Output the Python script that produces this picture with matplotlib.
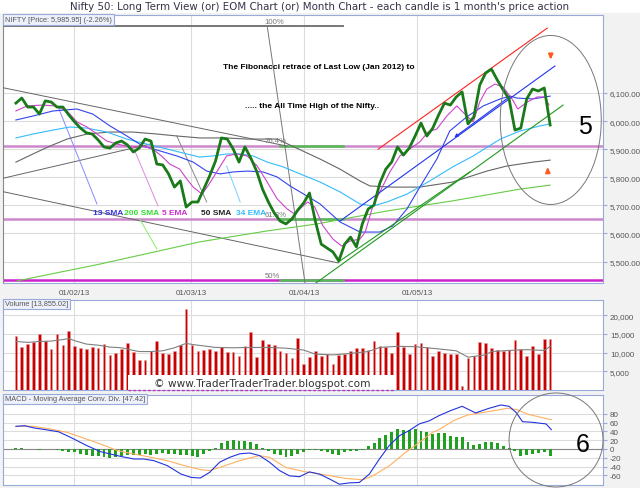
import matplotlib.pyplot as plt
from matplotlib.patches import Ellipse, Rectangle
from matplotlib.lines import Line2D
import numpy as np

# ---- daily data, 17 Jan 2013 .. 31 May 2013 ----
close = [6064, 6082, 6050, 6050, 6025, 6072, 6068, 6050, 6050, 6022,
         5997, 5975, 5958, 5954, 5933, 5908, 5904, 5922, 5929, 5915,
         5890, 5904, 5936, 5929, 5847, 5844, 5812, 5765, 5787, 5694,
         5712, 5712, 5758, 5805, 5858, 5940, 5936, 5901, 5854, 5908,
         5869, 5822, 5758, 5712, 5673, 5644, 5634, 5651, 5683, 5708,
         5744, 5644, 5562, 5548, 5534, 5502, 5562, 5587, 5552, 5634,
         5687, 5701, 5780, 5829, 5854, 5908, 5879, 5904, 5947, 5993,
         5947, 5975, 6022, 6064, 6057, 6086, 6104, 5990, 6015, 6128,
         6171, 6185, 6146, 6111, 6079, 5968, 5975, 6079, 6114, 6107,
         6118, 5986]

volume = [14520, 11500, 12300, 12750, 14970, 13020, 10960, 14970, 12120, 15860,
          11850, 11230, 10960, 11500, 11230, 12390, 9440, 9890, 10960, 12570,
          10080, 8110, 8110, 10340, 13200, 9890, 9630, 10520, 11940, 21740,
          11940, 10520, 10790, 11100, 10340, 11400, 10080, 10080, 9180, 11850,
          15500, 8740, 13290, 12300, 12120, 10340, 9890, 8560, 13900, 7030,
          8820, 10520, 9180, 9630, 7030, 9440, 9530, 10520, 11230, 11230,
          10610, 13020, 11670, 11400, 9890, 15500, 11500, 9630, 12390, 12570,
          11500, 9010, 10520, 9890, 9710, 9630, 1150, 8500, 9000, 12840,
          12570, 11230, 10790, 10340, 10610, 13290, 10960, 9180, 11670, 9710,
          13720, 13720]

vol_ma_idx = [0, 2, 4, 6, 8, 9, 10, 12, 14, 16, 18, 20, 21, 23, 25, 27, 28, 29, 30, 32, 34,
              37, 40, 43, 46, 49, 51, 54, 57, 60, 62, 65, 68, 72, 75, 77, 80, 81, 84, 87, 90, 91]
vol_ma_val = [13000, 12750, 13000, 13100, 13500, 13800, 13200, 12300, 12000, 11500, 11300,
              10600, 10300, 10300, 10500, 11300, 11900, 12500, 12200, 11800, 11400, 11300,
              11400, 11400, 11200, 10700, 9600, 9400, 9800, 10300, 11400, 11700, 11600,
              11000, 10500, 8800, 9400, 10300, 10600, 10800, 10600, 11700]

macd_hist = [1.5, 2.3, 0.8, 0, -1.5, 0, -1, -3, -4.5, -6,
             -7.6, -11, -13.6, -15, -16.7, -19, -21, -19, -15, -13,
             -13.6, -13, -11.4, -13, -10.6, -9, -10.6, -12, -13, -13,
             -15, -19, -12, -5, 1.5, 12.9, 19, 20.5, 17.4, 17.4,
             15.2, 11.4, 1.5, -3.8, -11.4, -13.6, -19, -15.2, -11.4, -7.6,
             -1.5, -1.5, -3.8, -7.6, -11.4, -13, -7.6, -5.3, -3.8, -1.5,
             7.6, 13.6, 24, 31.8, 37.9, 45.5, 44, 43, 45.5, 41.7,
             37.9, 34, 36.4, 36, 30, 28, 26.5, 16.7, 9, 11.4,
             15, 15, 13.6, 7.6, 1.5, -3.8, -15, -13.6, -11.4, -9,
             -7.6, -15]

macd_idx = [0, 1.5, 3, 5, 7.3, 9.3, 12.1, 14.4, 16.1, 17.8, 20.1, 21.8, 23.5, 25.8, 28.1,
            29.8, 31.4, 33, 34.7, 36.4, 38.1, 39.8, 41.5, 43.2, 44.9, 46.6, 48.3, 50, 51.7,
            53.4, 55.1, 56.8, 58.5, 60.2, 61.9, 63.6, 65.3, 67, 68.7, 70.4, 72.1, 74, 76,
            78.3, 80.6, 82.6, 84, 85.2, 86.3, 87.7, 90.3, 91.2]
macd_val = [51.5, 53, 48, 44, 39, 26.5, 7.6, -6, -11.4, -16.7, -22.7, -22.7, -26.5, -37.9,
            -56.8, -64.4, -66, -53, -30, -19, -11, -9, -15, -30, -49, -61, -63, -52, -57,
            -68, -80, -77, -76, -57, -23, 8, 30, 42, 57, 64, 76, 87, 97, 82, 92.5, 100, 97,
            83, 62, 61, 57, 44]

signal_idx = [0, 3, 5.8, 8.7, 11.5, 14.4, 17.3, 20.1, 23, 25.8, 28.7, 31.5, 33, 34.7, 38.1,
              41.5, 43.2, 46, 49.4, 52.8, 56.2, 59.1, 60.8, 63.6, 66.4, 68.7, 71, 72.2, 74.6,
              76.9, 79.1, 81.4, 83.7, 85.4, 87.1, 89.4, 91.2]
signal_val = [51.5, 51.5, 45.5, 37.9, 25, 11.4, -3.8, -11.4, -18.9, -26.5, -37.9, -47, -49,
              -42, -26.5, -15, -19, -42, -52, -59, -67, -70, -61, -38, -7.6, 15, 38, 45, 65,
              77, 82, 87, 92.5, 89, 79.5, 72, 66.6]

# moving averages on price (sampled points)
ema5_idx = [0, 1.9, 4.6, 6.6, 8.7, 10.4, 12.1, 13.8, 15.5, 17.2, 18.9, 19.9, 21.6, 23.3, 25.0,
            26.2, 27.9, 29.1, 30.2, 31.7, 32.7, 34.2, 35.9, 37.6, 39.4, 41.1, 42.8, 44.5, 46.2,
            47.5, 48.7, 49.7, 50.9, 52.3, 54.0, 55.5, 56.9, 58.6, 59.5, 60.8, 62.0, 63.7, 65.4,
            67.1, 68.8, 70.2, 71.7, 73.4, 75.1, 76.8, 77.9, 79.0, 80.2, 81.6, 83.0, 84.5, 85.5,
            87.1, 88.8, 90.1, 90.8]
ema5_val = [6036, 6054, 6057, 6054, 6036, 5997, 5979, 5954, 5929, 5918, 5911, 5908, 5911, 5901,
            5872, 5847, 5829, 5794, 5765, 5740, 5769, 5819, 5876, 5883, 5876, 5840, 5783, 5723,
            5687, 5669, 5694, 5712, 5694, 5627, 5580, 5555, 5573, 5580, 5605, 5698, 5748, 5819,
            5876, 5901, 5926, 5961, 5972, 6018, 6054, 6018, 5997, 6068, 6114, 6132, 6121, 6079,
            6043, 6068, 6086, 6086, 6057]

sma13_idx = [0, 2.9, 6.3, 10.4, 13.1, 16.0, 18.9, 21.6, 24.5, 27.4, 30.2, 32.5, 34.8, 37.0,
             39.4, 42.1, 44.5, 46.7, 49.6, 51.8, 55.2, 58.6, 62.0, 64.2, 66.6, 68.8, 71.7, 73.9,
             76.8, 79.6, 82.5, 84.2, 85.3, 88.1, 91.0]
sma13_val = [6004, 6018, 6036, 6043, 6025, 5983, 5947, 5911, 5894, 5876, 5854, 5822, 5812, 5819,
             5822, 5819, 5801, 5769, 5733, 5705, 5641, 5605, 5605, 5627, 5687, 5765, 5865, 5965,
             6015, 6054, 6079, 6089, 6082, 6079, 6089]

ema34_idx = [0, 2.9, 6.3, 9.2, 12.1, 15.5, 18.9, 22.3, 25.7, 29.1, 31.3, 33.6, 35.9, 38.2, 40.4,
             42.8, 45.5, 48.4, 51.8, 55.2, 58.6, 60.8, 63.2, 66.6, 70.5, 74.4, 77.9, 82.5, 85.9,
             89.3, 91.0]
ema34_val = [5940, 5954, 5968, 5979, 5975, 5961, 5936, 5918, 5901, 5883, 5872, 5876, 5883, 5883,
             5876, 5854, 5837, 5812, 5783, 5748, 5705, 5698, 5712, 5740, 5787, 5837, 5876, 5936,
             5965, 5983, 5990]

sma50_idx = [0, 2.9, 5.8, 8.7, 12.1, 16.0, 19.9, 24.0, 27.4, 31.3, 35.9, 39.4, 44.5, 51.8, 55.2,
             58.6, 60.3, 64.2, 68.8, 74.4, 80.2, 83.6, 88.1, 91.0]
sma50_val = [5854, 5883, 5911, 5936, 5954, 5961, 5961, 5954, 5947, 5940, 5940, 5936, 5936, 5865,
             5829, 5787, 5769, 5765, 5765, 5783, 5822, 5840, 5854, 5861]

sma200_idx = [0.2, 14.3, 31.3, 42.8, 51.3, 63.2, 74.4, 85.9, 91.0]
sma200_val = [5431, 5491, 5570, 5609, 5634, 5680, 5716, 5758, 5772]

# hand-drawn lines (index, price)
red_channel = [(61.7, 5900), (90.5, 6331)]
blue_channel = [(55.2, 5644), (91.8, 6196)]
blue_arrow = [(84.5, 6093), (74.3, 5936)]
green_trend_a = [(50.4, 5413), (93.2, 6057)]
green_trend_b = [(54.9, 5498), (77.3, 5819)]
gray_lines = [[(-2.7, 6121), (46.2, 5911)],
              [(-2.7, 5751), (54.9, 5495)],
              [(-2.7, 5794), (22.8, 5918)]]
fib_diag = [(42.8, 6338.5), (49.4, 5402)]
pointers = {'13 SMA': [(7.2, 6050), (13.8, 5705)],
            '5 EMA': [(19.9, 5911), (24.2, 5698)],
            '34 EMA': [(35.9, 5840), (38.2, 5712)],
            '200 SMA': [(21.1, 5651), (24.0, 5545)],
            '50 SMA': [(27.4, 5947), (32.5, 5712)]}

fib_levels = [6338.5, 5913, 5650, 5434]
fib_labels = ['100%', '76.4%', '61.8%', '50%']
fib_span = (45.0, 55.7)

date_pos = [9.9, 29.9, 49.1, 68.4]
date_labels = ['01/02/13', '01/03/13', '01/04/13', '01/05/13']
price_ticks = [5500, 5600, 5700, 5800, 5900, 6000, 6100]
vol_ticks = [5000, 10000, 15000, 20000]
macd_ticks = [-60, -40, -20, 0, 20, 40, 60, 80]

XMIN, XMAX = -2.2, 100.0
EDGE = '#9aaad8'

plt.rcParams['font.family'] = ['Liberation Sans', 'DejaVu Sans']

fig = plt.figure(figsize=(6.4, 4.89), dpi=100, facecolor='#f2f2f2')
fig.add_artist(Rectangle((0, 1 - 14 / 489), 1, 14 / 489, transform=fig.transFigure,
                         fc='white', ec='none', zorder=0))
fig.text(0.5, 1 - 7.5 / 489,
         "Nifty 50: Long Term View (or) EOM Chart (or) Month Chart - each candle is 1 month's price action",
         ha='center', va='center', fontsize=7.4, color='#333348', family='DejaVu Sans')

ax1 = fig.add_axes([3 / 640, 1 - 284 / 489, 600 / 640, 268 / 489])
ax2 = fig.add_axes([3 / 640, 1 - 391 / 489, 600 / 640, 90 / 489])
ax3 = fig.add_axes([3 / 640, 1 - 486 / 489, 600 / 640, 90 / 489])


def style_panel(ax, ylim, ticks, labels, label):
    ax.set_xlim(XMIN, XMAX)
    ax.set_ylim(*ylim)
    ax.yaxis.tick_right()
    ax.set_yticks(ticks)
    ax.set_yticklabels(labels)
    ax.set_xticks(date_pos)
    ax.set_xticklabels([])
    ax.grid(True, color='#dcdcdc', lw=0.8)
    ax.set_axisbelow(True)
    ax.tick_params(axis='y', length=3, color=EDGE, labelsize=5.8, labelcolor='#555555', pad=2)
    ax.tick_params(axis='x', length=0)
    for s in ax.spines.values():
        s.set_color(EDGE)
    ax.text(0.003, 0.995, label, transform=ax.transAxes, ha='left', va='top',
            fontsize=5.3, color='#555555', zorder=10,
            bbox=dict(boxstyle='square,pad=0.25', fc='#eef1fb', ec=EDGE, lw=0.8))


x = np.arange(len(close))

# ---------------- price panel ----------------
style_panel(ax1, (5423.6, 6377.7), price_ticks, [f'{v:,.2f}' for v in price_ticks],
            'NIFTY [Price: 5,985.95] (-2.26%)')
ax1.set_xticklabels(date_labels)
ax1.tick_params(axis='x', labelsize=5.8, labelcolor='#555555', pad=4)
ax1.spines['left'].set_color('#888888')

# fib levels and horizontal marks
ax1.axhline(fib_levels[1], color='#cc88cc', lw=1.8, zorder=2)
ax1.axhline(fib_levels[2], color='#cc88cc', lw=1.8, zorder=2)
ax1.axhline(fib_levels[3], color='#cc22cc', lw=1.8, zorder=2)
ax1.plot([XMIN, fib_span[1]], [fib_levels[0]] * 2, color='#777777', lw=1.4, zorder=3)
for lvl in fib_levels[1:]:
    ax1.plot(fib_span, [lvl, lvl], color='#55bb55', lw=1.8, zorder=3)
for lvl, lab in zip(fib_levels, fib_labels):
    ax1.text(42.4, lvl + 5, lab, fontsize=5.6, color='#777777', ha='left', va='bottom', zorder=4)
ax1.plot(*zip(*fib_diag), color='#777777', lw=0.7, zorder=3)

for seg in gray_lines:
    ax1.plot(*zip(*seg), color='#666666', lw=0.7, zorder=3)

pointer_colors = {'13 SMA': '#8888ff', '5 EMA': '#dd88dd', '34 EMA': '#77ccff',
                  '200 SMA': '#88ee66', '50 SMA': '#888888'}
for name, seg in pointers.items():
    ax1.plot(*zip(*seg), color=pointer_colors[name], lw=0.7, zorder=3)

# moving averages
ax1.plot(sma200_idx, sma200_val, color='#66cc44', lw=0.8, zorder=4)
ax1.plot(sma50_idx, sma50_val, color='#666666', lw=0.8, zorder=4)
ax1.plot(ema34_idx, ema34_val, color='#33bbff', lw=0.8, zorder=4)
ax1.plot(sma13_idx, sma13_val, color='#3344ee', lw=0.8, zorder=4)
ax1.plot(ema5_idx, ema5_val, color='#cc44cc', lw=0.8, zorder=4)

# trend lines
ax1.plot(*zip(*red_channel), color='#ff2222', lw=0.8, zorder=5)
ax1.plot(*zip(*blue_channel), color='#2233ee', lw=0.8, zorder=5)
ax1.annotate('', xy=blue_arrow[1], xytext=blue_arrow[0],
             arrowprops=dict(arrowstyle='-|>', color='#2233ee', lw=0.8, mutation_scale=5), zorder=5)
ax1.plot(*zip(*green_trend_a), color='#229922', lw=0.8, zorder=5)
ax1.plot(*zip(*green_trend_b), color='#229922', lw=0.8, zorder=5)

# close
ax1.plot(x, close, color='#1a7a1a', lw=2.0, zorder=6, solid_joinstyle='round')

# annotations
ax1.text(35.3, 6193, 'The Fibonacci retrace of Last Low (Jan 2012) to', fontsize=6.0,
         fontweight='bold', color='black', ha='left', va='center', zorder=7)
ax1.text(39.0, 6057, '..... the All Time High of the Nifty..', fontsize=6.0,
         fontweight='bold', color='black', ha='left', va='center', zorder=7)
ma_labels = [('13 SMA', 13.1, '#3333dd'), ('200 SMA', 18.4, '#33dd33'), ('5 EMA', 24.9, '#cc33cc'),
             ('50 SMA', 31.5, '#222222'), ('34 EMA', 37.5, '#33bbff')]
for lab, xi, col in ma_labels:
    ax1.text(xi, 5676, lab, fontsize=6, fontweight='bold', color=col, ha='left', va='center', zorder=7)

ax1.add_patch(Ellipse((91.1, 6004), 17.2, 601.6, fill=False, ec='#777777', lw=0.7, zorder=7))
ax1.text(96.9, 5983, '5', fontsize=18, ha='center', va='center', color='black', zorder=7)
ax1.annotate('', xy=(91.1, 6210), xytext=(91.1, 6245),
             arrowprops=dict(arrowstyle='-|>', color='#ff5a1f', lw=1.6, mutation_scale=6), zorder=7)
ax1.annotate('', xy=(90.6, 5845), xytext=(90.6, 5810),
             arrowprops=dict(arrowstyle='-|>', color='#ff5a1f', lw=1.6, mutation_scale=6), zorder=7)

# ---------------- volume panel ----------------
style_panel(ax2, (0, 24100), vol_ticks, [f'{v:,}' for v in vol_ticks], 'Volume [13,855.02]')
ax2.bar(x, volume, width=0.45, color='#c80000', edgecolor='#e9a0a0', lw=0.4, zorder=3)
ax2.plot(vol_ma_idx, vol_ma_val, color='#808080', lw=0.8, zorder=4)

fig.add_artist(Rectangle((128 / 640, 1 - 391 / 489), 267 / 640, 15 / 489,
                         transform=fig.transFigure, fc='white', ec='none', zorder=5))
fig.add_artist(Line2D([128 / 640, 395 / 640], [1 - 391 / 489] * 2, transform=fig.transFigure,
                      color='#bb33bb', lw=1.0, dashes=(2, 1.5), zorder=6))
fig.text(262 / 640, 1 - 384 / 489, '\u00a9 www.TraderTraderTrader.blogspot.com',
         ha='center', va='center', fontsize=7.6, color='#333333', family='DejaVu Sans', zorder=7)

# ---------------- MACD panel ----------------
style_panel(ax3, (-81.8, 122.7), macd_ticks, [str(v) for v in macd_ticks],
            'MACD - Moving Average Conv. Div. [47.42]')
ax3.axhline(0, color='#888888', lw=0.8, zorder=2)
ax3.bar(x, macd_hist, width=0.5, color='#22a022', zorder=3)
ax3.plot(signal_idx, signal_val, color='#ffb060', lw=0.8, zorder=4)
ax3.plot(macd_idx, macd_val, color='#2233dd', lw=0.8, zorder=5)
ax3.add_patch(Ellipse((92.0, 20.5), 16.0, 213.6, fill=False, ec='#777777', lw=0.7,
                      zorder=7, clip_on=False))
ax3.text(96.6, 11, '6', fontsize=18, ha='center', va='center', color='black', zorder=7)

fig.savefig('out.png', dpi=100, facecolor=fig.get_facecolor())
